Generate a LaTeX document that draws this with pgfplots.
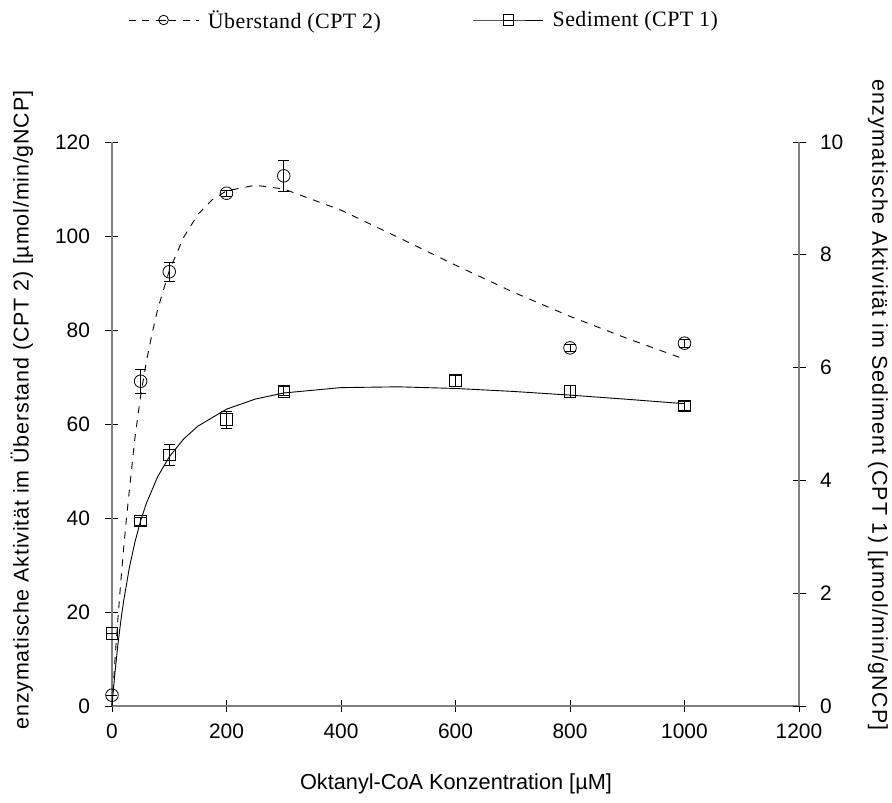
\documentclass[border=0pt]{standalone}
\usepackage{fontspec}
\setmainfont{Liberation Sans}
\newfontfamily\legendfont[LetterSpace=2]{Liberation Serif}
\newfontfamily\lblA[LetterSpace=4]{Liberation Sans}
\newfontfamily\lblB[LetterSpace=6]{Liberation Sans}
\usepackage{pgfplots}
\pgfplotsset{compat=1.18}
\begin{document}
\begin{tikzpicture}
\pgfplotsset{
  common/.style={
    width=687bp, height=564bp, scale only axis, at={(0bp,0bp)}, anchor=south west,
    xmin=0, xmax=1200, clip=false,
    major tick length=13bp, tick align=inside,
    tick style={black, line width=0.8bp},
    ticklabel style={font=\fontsize{21}{25}\selectfont},
    /pgf/number format/assume math mode=true,
    /pgf/number format/1000 sep={},
    error bars/error bar style={black, line width=0.8bp, solid},
    error bars/error mark options={rotate=90, mark size=5.5bp, line width=0.8bp, solid},
  },
  nolinearrows/.style={
    axis line style={draw=gray, line width=1.8bp, -},
    every outer x axis line/.append style={-},
    every outer y axis line/.append style={-},
    every inner x axis line/.append style={-},
    every inner y axis line/.append style={-},
  },
}
\begin{axis}[common, ymin=0, ymax=120, ytick={0,20,...,120}, xtick={0,200,...,1200},
  axis x line=bottom, axis y line=left, nolinearrows,
  yticklabel style={xshift=-12bp}, xticklabel style={yshift=-8bp},
  legend style={draw=none, fill=none, at={(axis description cs:0.0233,1.2163)}, anchor=west,
    font=\legendfont\fontsize{22}{26}\selectfont, inner sep=0pt,
    /tikz/every odd column/.append style={column sep=7bp},
    /tikz/every even column/.append style={column sep=90bp}},
  legend columns=2,
  legend image code/.code={\draw[black, line width=0.8bp] (30.5bp,0bp) -- (39.5bp,0bp);
    \draw[mark repeat=2,mark phase=2,#1] plot coordinates {(0bp,0bp) (35bp,0bp) (70bp,0bp)};},
]
\addlegendimage{black, line width=0.8bp, dash pattern=on 7bp off 6.5bp, mark=o, mark size=4.8bp, mark options={solid}}
\addlegendentry{Überstand (CPT 2)}
\addlegendimage{black, line width=0.8bp, mark=square, mark size=5.3bp, mark options={solid}}
\addlegendentry{Sediment (CPT 1)}
% fitted curve Ueberstand
\addplot[black, line width=0.9bp, dash pattern=on 7bp off 7bp, forget plot] coordinates {
(0,0) (5,9.5) (10,18.1) (15,25.9) (20,33.1) (25,39.6) (30,45.5) (40,57.0) (50,66.0) (60,73.3)
(70,79.2) (80,84.5) (100,92.6) (125,99.7) (150,104.6) (175,107.7) (200,109.6) (250,110.8)
(300,110.0) (400,105.5) (500,99.7) (600,93.8) (700,88.1) (800,82.9) (900,78.2) (1000,73.8)};
% data Ueberstand
\addplot[black, only marks, mark=o, mark size=6.3bp, mark options={line width=0.8bp}, forget plot,
  error bars/.cd, y dir=both, y explicit] coordinates {
(0,2.3) +- (0,0)
(50,69.1) +- (0,2.5)
(100,92.4) +- (0,2.0)
(200,109.1) +- (0,0.6)
(300,112.8) +- (0,3.3)
(800,76.2) +- (0,0.8)
(1000,77.2) +- (0,0.8)};
\end{axis}
\begin{axis}[common, ymin=0, ymax=10, ytick={0,2,...,10},
  axis x line=none, axis y line=right, nolinearrows,
  yticklabel style={xshift=11bp}]
% fitted curve Sediment
\addplot[black, line width=0.9bp] coordinates {
(0,0) (2,0.241) (5,0.574) (10,1.060) (15,1.478) (20,1.840) (30,2.436) (40,2.904) (50,3.283)
(60,3.593) (80,4.070) (100,4.417) (125,4.733) (150,4.962) (200,5.263) (250,5.441) (300,5.550)
(400,5.645) (500,5.659) (600,5.630) (700,5.578) (800,5.512) (900,5.438) (1000,5.360)};
% data Sediment
\addplot[black, only marks, mark=square, mark size=5.8bp, mark options={line width=0.8bp},
  error bars/.cd, y dir=both, y explicit] coordinates {
(0,1.29) +- (0,0)
(50,3.28) +- (0,0.07)
(100,4.45) +- (0,0.18)
(200,5.08) +- (0,0.15)
(300,5.58) +- (0,0.08)
(600,5.77) +- (0,0.10)
(800,5.58) +- (0,0.10)
(1000,5.32) +- (0,0.08)};
\end{axis}
\node[font=\fontsize{21.8}{26}\selectfont] at (344bp,-78bp) {Oktanyl-CoA Konzentration [µM]};
\node[rotate=90, font=\lblA\fontsize{21.5}{26}\selectfont] at (-90bp,296bp) {enzymatische Aktivität im Überstand (CPT 2) [µmol/min/gNCP]};
\node[rotate=-90, font=\lblB\fontsize{21.5}{26}\selectfont] at (766bp,301bp) {enzymatische Aktivität im Sediment (CPT 1) [µmol/min/gNCP]};
\pgfresetboundingbox
\path[use as bounding box] (-112bp,-97bp) rectangle (780bp,706bp);
\end{tikzpicture}
\end{document}
